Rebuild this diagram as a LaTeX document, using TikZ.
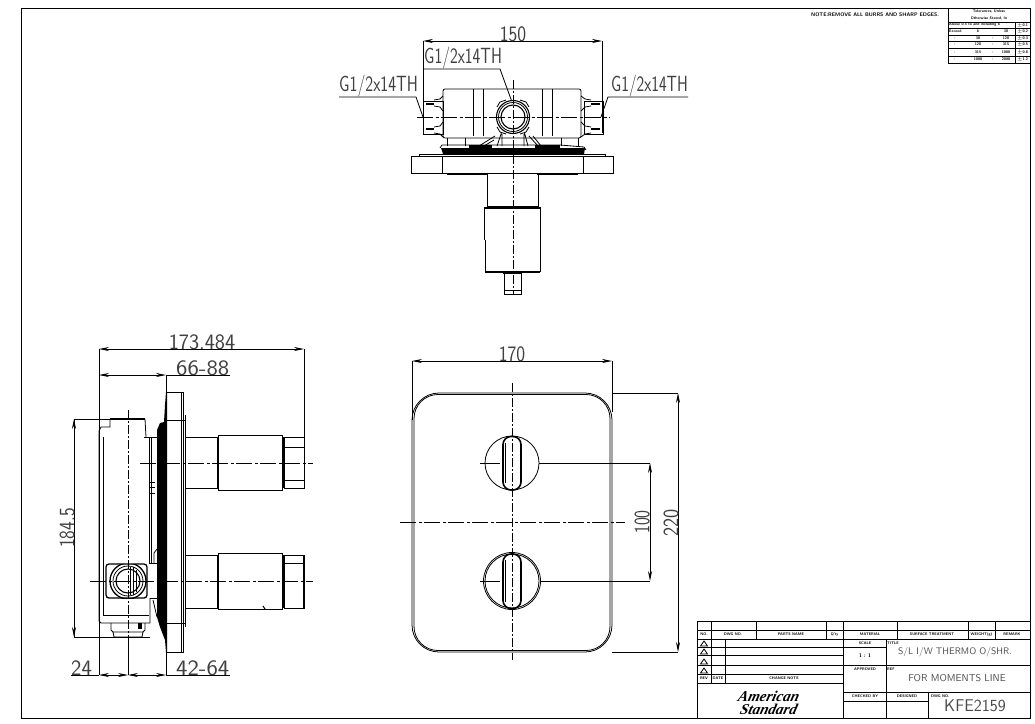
\documentclass[tikz,border=0pt]{standalone}
\usepackage{fontspec}
\usepackage{graphicx}
\usetikzlibrary{arrows.meta}
\newfontfamily\logofont{Liberation Serif}
\newcommand{\cadtxt}[2][0.72]{\scalebox{#1}[1]{#2}}
\tikzset{
  ln/.style={line width=0.8pt,black},
  hv/.style={line width=1.8pt,black},
  cl/.style={line width=0.8pt,black,dash pattern=on 16pt off 2.5pt on 3pt off 2.5pt},
  vcl/.style={line width=0.8pt,black,dash pattern=on 9pt off 2pt on 2pt off 2pt},
  dimarr/.style={line width=0.8pt,{Stealth[length=10pt,width=4pt]}-{Stealth[length=10pt,width=4pt]}},
  dimtxt/.style={inner sep=0pt,text=black!75,font=\sffamily\fontsize{22}{22}\selectfont},
  tiny/.style={inner sep=0pt,font=\sffamily\bfseries\fontsize{5.2}{6}\selectfont},
  micro/.style={inner sep=0pt,font=\sffamily\bfseries\fontsize{3.8}{4}\selectfont},
  ttl/.style={inner sep=0pt,text=black!70,font=\sffamily},
  logo/.style={inner sep=0pt,font=\logofont\bfseries\itshape\fontsize{15}{15}\selectfont,xslant=0.25}
}
\begin{document}
\begin{tikzpicture}[x=1pt,y=-1pt]
\useasboundingbox (0,0) rectangle (1035,723);
\fill[white] (0,0) rectangle (1035,723);
% sheet frame
\draw[ln] (1030,63) -- (1030,718) -- (21,718) -- (21,8) -- (1030,8) -- (1030,20);

% note and tolerance table
\node[tiny,anchor=west] (note) at (811,15) {NOTE:REMOVE ALL BURRS AND SHARP EDGES.};
\draw[ln] (948,8) rectangle (1030,63);
\foreach \yy in {22,28,35,41,48,56} \draw[ln] (948,\yy) -- (1030,\yy);
\draw[ln] (1015,22) -- (1015,63);
\node[micro] (tol1) at (989,11.5) {Tolerances, Unless};
\node[micro] (tol2) at (989,18) {Otherwise Stated, In};
\node[micro,anchor=west] (r0) at (949,25) {Above 0.5 to and including 6};
\node[micro] (v0) at (1022.5,25) {$\pm$0.1};
\node[micro,anchor=west] (r1) at (949,31.5) {Exceed};
\node[micro] (r1a) at (978,31.5) {6};
\node[micro] (r1b) at (1006,31.5) {30};
\node[micro] (v1) at (1022.5,31.5) {$\pm$0.2};
\node[micro] (r2) at (955,38) {,};
\node[micro] (r2a) at (978,38) {30};
\node[micro] (r2c) at (993,38) {,};
\node[micro] (r2b) at (1006,38) {120};
\node[micro] (v2) at (1022.5,38) {$\pm$0.3};
\node[micro] (r3) at (955,44.5) {,};
\node[micro] (r3a) at (978,44.5) {120};
\node[micro] (r3c) at (993,44.5) {,};
\node[micro] (r3b) at (1006,44.5) {315};
\node[micro] (v3) at (1022.5,44.5) {$\pm$0.5};
\node[micro] (r4) at (955,52) {,};
\node[micro] (r4a) at (978,52) {315};
\node[micro] (r4c) at (993,52) {,};
\node[micro] (r4b) at (1006,52) {1000};
\node[micro] (v4) at (1022.5,52) {$\pm$0.8};
\node[micro] (r5) at (955,59.5) {,};
\node[micro] (r5a) at (978,59.5) {1000};
\node[micro] (r5c) at (993,59.5) {,};
\node[micro] (r5b) at (1006,59.5) {2000};
\node[micro] (v5) at (1022.5,59.5) {$\pm$1.2};

% ===== TOP VIEW =====
\draw[ln] (423,41) -- (423,133) (602,41) -- (602,133);
\draw[dimarr] (423,41) -- (602,41);
\node[dimtxt,anchor=south] (d150) at (513,42) {\cadtxt[0.85]{150}};
\node[dimtxt,anchor=south west] (g1) at (424,69) {\cadtxt[0.75]{G1/2x14TH}};
\node[dimtxt,anchor=south west] (g2) at (339,97.5) {\cadtxt[0.76]{G1/2x14TH}};
\node[dimtxt,anchor=south west] (g3) at (611,97.5) {\cadtxt[0.74]{G1/2x14TH}};
\draw[ln] (424,69) -- (500,69) -- (512,102);
\draw[ln] (339,97) -- (416,97) -- (423,117);
\draw[ln] (688,97) -- (608,97) -- (601,117);
% body
\draw[ln,rounded corners=2pt] (443,89) rectangle (581,138);
\draw[ln] (473,89) -- (473,136) (483,89) -- (483,136) (542,89) -- (542,136) (552,89) -- (552,136);
% fittings
\draw[ln] (423,101) rectangle (443,134);
\draw[ln] (603,101) -- (584,101) -- (584,134) -- (603,134) -- cycle;
\draw[hv] (426,104) -- (434,104) (426,129) -- (434,129) (591,104) -- (600,104) (591,129) -- (600,129);
\draw[ln] (434,100) -- (440,99) -- (443,96) (434,106) -- (440,107) -- (443,111)
          (434,127) -- (440,126) -- (443,122) (434,133) -- (440,134) -- (443,137)
          (591,100) -- (585,99) -- (581,96) (591,106) -- (585,107) -- (581,111)
          (591,127) -- (585,126) -- (581,122) (591,133) -- (585,134) -- (581,137);
% neck
\fill[white] (498,105) rectangle (528,135);
\draw[ln] (502,131) -- (497,146) (524,131) -- (528,146) (502,134) -- (502,146) (524,134) -- (524,146);
\draw[ln] (447,138) -- (447,146) (465,138) -- (465,146) (561,138) -- (561,146) (578,138) -- (578,146);
\draw[ln] (479,146) -- (495,136) (484,146) -- (494,140) (529,136) -- (538,146) (533,136) -- (541,146);
\fill[white] (496,101) rectangle (530,133);
\draw[line width=1.1pt] (513,117) circle[radius=12];
\draw[ln] (513,117) circle[radius=14.5];
\draw[line width=1.1pt] (513,117) circle[radius=16.5];
\draw[ln] (497,107) -- (500,102) -- (506,100) (529,107) -- (526,102) -- (520,100)
          (497,127) -- (500,132) -- (506,134) (529,127) -- (526,132) -- (520,134);
% flange
\draw[ln] (440,148) -- (442,145) -- (560,145) -- (584,147) -- (586,150);
\fill[black] (469,145) -- (492,145) -- (492,148) -- (469,148) -- cycle;
\fill[black] (535,145) -- (560,145) -- (560,148) -- (535,148) -- cycle;
\fill[black] (441,148) -- (585,148) -- (584,154) -- (443,154) -- cycle;
\draw[ln] (419,156) -- (419,154) -- (605,154) -- (605,156);
\draw[ln] (411,156) rectangle (613,173);
\draw[ln] (442,156) -- (442,173) (583,156) -- (583,173);
\draw[hv] (447,174) -- (487,174) (537,174) -- (578,174);
% stem
\draw[ln] (487,174) -- (487,206) -- (538,206) -- (538,174);
\draw[hv] (484,208) -- (541,208) (485,272) -- (540,272);
\draw[hv] (484.5,208) -- (484.5,240) (540.5,208) -- (540.5,240);
\draw[ln] (485,240) -- (485,272) (540,240) -- (540,272);
\draw[ln] (504,273) -- (504,294) -- (521,294) -- (521,273) (503,273) -- (522,273) (504,290) -- (521,290);
% centre lines
\draw[cl] (417,117) -- (610,117);
\draw[vcl] (513,80) -- (513,295);

% ===== SIDE VIEW =====
\draw[ln] (99,349) -- (99,675) (166,375) -- (166,394) (166,652) -- (166,675) (304,349) -- (304,437);
\draw[dimarr] (99,349) -- (304,349);
\node[dimtxt,anchor=south] (d173) at (202,350) {\cadtxt[0.98]{173.484}};
\draw[dimarr] (99,375) -- (166,375);
\draw[ln] (166,375) -- (230,375);
\node[dimtxt,anchor=south west] (d66) at (176,376) {\cadtxt[1.1]{66-88}};
\draw[ln] (71,675) -- (99,675) (166,675) -- (230,675);
\draw[dimarr] (99,675) -- (128,675);
\draw[dimarr] (128,675) -- (166,675);
\node[dimtxt,anchor=south west] (d24) at (71,676) {\cadtxt[1.0]{24}};
\node[dimtxt,anchor=south west] (d42) at (176,676) {\cadtxt[1.1]{42-64}};
\draw[ln] (145,419) -- (74,419) -- (74,637) -- (150,637);
\draw[dimarr] (74,419) -- (74,637);
\node[dimtxt,rotate=90,anchor=south] (d184) at (75,528) {\cadtxt[0.84]{184.5}};
% body
\draw[hv] (110,419) -- (145,419);
\draw[ln] (145,419) -- (146,437) (110,419) -- (110,427) -- (101,427) -- (99,431);
\draw[ln] (103,437) -- (103,615) -- (149,615);
\draw[ln] (99,431) -- (99,621) -- (101,623) -- (150,623) -- (150,598);
\draw[ln] (144,437) -- (157,437) (149,437) -- (149,563) -- (157,563) (157,430) -- (157,563);
\draw[ln] (151,437) -- (151,563);
\draw[ln] (149,482) -- (155,482) (149,487) -- (155,487) (149,493) -- (155,493);
\draw[ln] (150,598) -- (157,598);
\draw[ln] (154,553) -- (157,549) (154,563) -- (154,553) (153,600) -- (157,617);
% plate
\fill[black] (166,392) -- (167,392) -- (167,652) -- (166,652) -- (165,640) -- (160,627) -- (157,617) -- (157,430) -- (160,423) -- (164,422) -- (165,405) -- cycle;
\draw[ln] (167,392) -- (183,392) -- (183,652) -- (167,652);
\draw[ln] (181,392) -- (181,652) (185,415) -- (185,627);
\draw[ln] (167,420) -- (185,420) (167,623) -- (185,623);
% upper stem
\draw[ln] (185,437) rectangle (217,488);
\draw[line width=0.9pt] (218,435) rectangle (282,490);
\draw[ln] (284,437) rectangle (304,488);
\draw[hv] (283.5,437) -- (283.5,488);
\draw[ln] (284,447) -- (304,447) (284,480) -- (304,480);
% lower stem
\draw[ln] (185,555) rectangle (217,608);
\draw[line width=0.9pt] (218,553) rectangle (282,609);
\draw[ln] (284,555) rectangle (304,608);
\draw[hv] (283.5,555) -- (283.5,608);
\draw[ln] (284,563) -- (304,563) (303,555) -- (303,608);
\draw[line width=1pt] (263,606) -- (265,609);
% valve square
\fill[white] (105,563) rectangle (147,598);
\draw[line width=1.3pt,rounded corners=3pt] (106,564) rectangle (147,598);
\begin{scope}
\clip (106,564) rectangle (147,598);
\draw[line width=1.3pt] (128,581) circle[radius=18];
\draw[ln] (128,581) circle[radius=15];
\draw[line width=1.1pt] (128,581) circle[radius=12];
\end{scope}
\draw[ln] (130,567) -- (130,595) (133,567) -- (133,595) (136,570) -- (136,592);
% bottom nut
\draw[ln] (111,623) -- (111,630) -- (113,632) -- (143,632) -- (145,630) -- (145,623);
\draw[ln] (113,632) -- (114,637) -- (142,637) -- (143,632);
\fill[black] (138,623) rectangle (142,629);
% centre lines
\draw[cl] (140,463) -- (313,463);
\draw[cl] (90,581) -- (313,581);
\draw[vcl] (128,410) -- (128,637);
\draw[ln] (128,637) -- (128,675);

% ===== FRONT VIEW =====
\draw[ln] (412,361) -- (412,420) (612,361) -- (612,412);
\draw[dimarr] (412,361) -- (612,361);
\node[dimtxt,anchor=south] (d170) at (512,362) {\cadtxt[0.85]{170}};
\draw[ln,rounded corners=27pt] (412,393) rectangle (612,652);
\draw[ln,rounded corners=24pt] (414,394.5) rectangle (610,650.5);
\draw[ln] (612,393) -- (678,393) (612,652) -- (678,652);
\draw[dimarr] (678,393) -- (678,652);
\node[dimtxt,rotate=90,anchor=south] (d220) at (679,523) {\cadtxt[0.88]{220}};
\draw[ln] (539,463) -- (650,463) (540,581) -- (650,581);
\draw[dimarr] (650,463) -- (650,581);
\node[dimtxt,rotate=90,anchor=south] (d100) at (650,522) {\cadtxt[0.76]{100}};
% knobs
\draw[ln] (512,463) circle[radius=27];
\draw[ln] (512,581) circle[radius=27];
\draw[ln] (512,581) circle[radius=28.5];
\draw[line width=1.6pt,rounded corners=8pt] (503,436.5) rectangle (521,490);
\draw[ln] (505.5,443) -- (505.5,483);
\draw[line width=1.6pt,rounded corners=8pt] (503,554) rectangle (521,608.5);
\draw[ln] (505.5,560) -- (505.5,602);
\draw[ln] (480,463) -- (500,463) (480,581) -- (500,581);
% centre lines
\draw[cl] (400,522) -- (625,522);
\draw[vcl] (512,383) -- (512,660);

% ===== TITLE BLOCK =====
\draw[ln] (697,621) -- (1030,621) (697,621) -- (697,718);
\draw[ln] (697,630) -- (1030,630) (697,639) -- (1030,639);
\foreach \xx in {711,756,826,843,897,968,995} \draw[ln] (\xx,621) -- (\xx,639);
\draw[ln] (843,639) -- (843,718);
\draw[ln] (711,639) -- (711,683) (725,639) -- (725,683);
\draw[ln] (697,647) -- (843,647) (697,655) -- (843,655) (697,665) -- (843,665) (697,674) -- (843,674) (697,683) -- (843,683);
\draw[ln] (886,639) -- (886,718) (843,647) -- (886,647);
\draw[ln] (843,665.5) -- (1030,665.5) (843,692) -- (1030,692) (843,701) -- (928,701);
\draw[ln] (928,692) -- (928,718);
\node[micro] (h1) at (704,634.5) {NO.};
\node[micro] (h2) at (733,634.5) {DWG NO.};
\node[micro] (h3) at (791,634.5) {PARTS NAME};
\node[micro] (h4) at (834.5,634.5) {Q'ty};
\node[micro] (h5) at (870,634.5) {MATERIAL};
\node[micro] (h6) at (932,634.5) {SURFACE TREATMENT};
\node[micro] (h7) at (981.5,634.5) {WEIGHT(g)};
\node[micro] (h8) at (1012,634.5) {REMARK};
\foreach \yy in {646,654,664,673} \draw[ln] (700.5,\yy) -- (704,\yy-5) -- (707.5,\yy) -- cycle;
\node[micro] (rv) at (704,678.5) {REV};
\node[micro] (da) at (718,678.5) {DATE};
\node[micro] (cn) at (784,678.5) {CHANGE NOTE};
\node[micro] (sc) at (865,643) {SCALE};
\node[tiny] (sv) at (865,656) {1 : 1};
\node[micro] (ap) at (865,669.5) {APPROVED};
\node[micro] (ck) at (865,696.5) {CHECKED BY};
\node[micro] (ds) at (907,696.5) {DESIGNED};
\node[micro,anchor=west] (dw) at (931,696.5) {DWG NO.};
\node[micro,anchor=west] (tt) at (887,643) {TITLE};
\node[micro,anchor=west] (rf) at (887,669.5) {REF};
\node[ttl,font=\sffamily\fontsize{9.5}{10}\selectfont] (t1) at (955,652.5) {S/L I/W THERMO O/SHR.};
\node[ttl,font=\sffamily\fontsize{10}{11}\selectfont] (t2) at (957,678) {FOR MOMENTS LINE};
\node[ttl,font=\sffamily\fontsize{17}{18}\selectfont] (t3) at (975,706) {KFE2159};
\node[logo] (lg1) at (769,696) {American};
\node[logo] (lg2) at (769,709) {Standard};
\end{tikzpicture}
\end{document}
